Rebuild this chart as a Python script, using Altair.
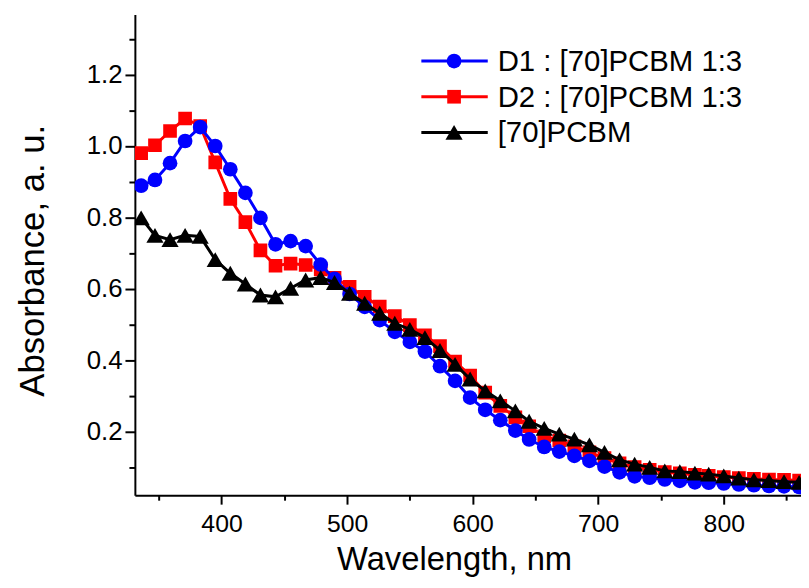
import altair as alt
import pandas as pd

# Wavelength (nm) of each measured point
wavelength = [336, 347, 359, 371, 383, 395, 407, 419, 431, 443, 455, 467, 479, 490, 502,
              514, 526, 538, 550, 562, 574, 586, 598, 610, 622, 634, 645, 657, 669, 681,
              693, 705, 717, 729, 741, 753, 765, 777, 788, 800, 812, 824, 836, 848, 860]

d1_pcbm = [0.889, 0.905, 0.952, 1.014, 1.053, 1.000, 0.935, 0.869, 0.799, 0.725, 0.734,
           0.720, 0.668, 0.628, 0.586, 0.550, 0.513, 0.480, 0.452, 0.425, 0.384, 0.343,
           0.296, 0.262, 0.233, 0.204, 0.179, 0.158, 0.145, 0.133, 0.119, 0.103, 0.087,
           0.076, 0.072, 0.067, 0.063, 0.059, 0.058, 0.056, 0.053, 0.051, 0.049, 0.048, 0.046]

d2_pcbm = [0.980, 1.002, 1.042, 1.077, 1.056, 0.954, 0.852, 0.787, 0.708, 0.665, 0.671,
           0.667, 0.655, 0.631, 0.606, 0.578, 0.551, 0.524, 0.499, 0.470, 0.440, 0.397,
           0.358, 0.310, 0.273, 0.241, 0.216, 0.188, 0.176, 0.160, 0.143, 0.127, 0.112,
           0.102, 0.094, 0.088, 0.084, 0.080, 0.077, 0.074, 0.071, 0.069, 0.067, 0.066, 0.064]

pcbm = [0.799, 0.750, 0.738, 0.750, 0.747, 0.682, 0.644, 0.614, 0.583, 0.578, 0.602,
        0.625, 0.632, 0.618, 0.588, 0.560, 0.532, 0.504, 0.487, 0.464, 0.428, 0.389,
        0.348, 0.315, 0.287, 0.259, 0.230, 0.210, 0.194, 0.180, 0.164, 0.143, 0.122,
        0.110, 0.101, 0.091, 0.089, 0.085, 0.082, 0.077, 0.071, 0.066, 0.064, 0.061, 0.059]

series_names = ["D1 : [70]PCBM 1:3", "D2 : [70]PCBM 1:3", "[70]PCBM"]
series_values = [d1_pcbm, d2_pcbm, pcbm]
series_colors = ["#0000FF", "#FF0000", "#000000"]
series_shapes = ["circle", "square", "triangle-up"]
series_sizes = [220, 190, 300]

x_ticks = [350, 400, 450, 500, 550, 600, 650, 700, 750, 800, 850]
y_ticks = [0.1, 0.2, 0.3, 0.4, 0.5, 0.6, 0.7, 0.8, 0.9, 1.0, 1.1, 1.2, 1.3]

FONT = "Liberation Sans"

x_scale = alt.Scale(domain=[331, 861.5], nice=False, zero=False)
y_scale = alt.Scale(domain=[0.023, 1.368], nice=False, zero=False)

x_axis = alt.Axis(
    title="Wavelength, nm", values=x_ticks,
    labelExpr="datum.value % 100 == 0 ? datum.label : ''",
    tickSize={"condition": {"test": "datum.value % 100 == 0", "value": 9}, "value": 5},
    grid=False, domainColor="black", domainWidth=2, tickColor="black", tickWidth=2,
    labelFont=FONT, labelFontSize=25, labelColor="black", labelPadding=8,
    titleFont=FONT, titleFontSize=33, titleFontWeight="normal", titleColor="black",
    titleX=322, titleY=75, titleBaseline="alphabetic",
)
y_axis = alt.Axis(
    title="Absorbance, a. u.", values=y_ticks,
    labelExpr="round(datum.value*10) % 2 == 0 ? format(datum.value, '.1f') : ''",
    tickSize={"condition": {"test": "round(datum.value*10) % 2 == 0", "value": 10}, "value": 6},
    grid=False, domainColor="black", domainWidth=2, tickColor="black", tickWidth=2,
    labelFont=FONT, labelFontSize=26, labelColor="black", labelPadding=3,
    titleFont=FONT, titleFontSize=35, titleFontWeight="normal", titleColor="black",
    titlePadding=36, titleY=248,
)

layers = []
# draw order: red, blue, black (black on top)
for idx in [1, 0, 2]:
    df = pd.DataFrame({"wavelength": wavelength, "value": series_values[idx]})
    layer = alt.Chart(df).mark_line(
        color=series_colors[idx], strokeWidth=3, clip=True,
        point=alt.OverlayMarkDef(shape=series_shapes[idx], size=series_sizes[idx],
                                 filled=True, color=series_colors[idx], opacity=1, clip=True),
    ).encode(
        x=alt.X("wavelength:Q", scale=x_scale, axis=x_axis),
        y=alt.Y("value:Q", scale=y_scale, axis=y_axis),
    )
    layers.append(layer)

# manual legend
legend_rows = [47, 83, 119]
for idx in range(3):
    ldf = pd.DataFrame({"label": [series_names[idx]]})
    yv = legend_rows[idx]
    layers.append(alt.Chart(ldf).mark_rule(color=series_colors[idx], strokeWidth=3).encode(
        x=alt.value(289), x2=alt.value(356), y=alt.value(yv)))
    layers.append(alt.Chart(ldf).mark_point(shape=series_shapes[idx], size=series_sizes[idx],
                                            filled=True, color=series_colors[idx], opacity=1).encode(
        x=alt.value(322), y=alt.value(yv)))
    layers.append(alt.Chart(ldf).mark_text(align="left", baseline="middle", font=FONT,
                                           fontSize=29.6, color="black").encode(
        x=alt.value(366), y=alt.value(yv + 1), text="label:N"))

chart = alt.layer(*layers).properties(
    width=672, height=485,
    autosize=alt.AutoSizeParams(type="none"),
    padding={"left": 128, "top": 4, "right": 0, "bottom": 83},
).configure_view(strokeWidth=0)

chart.save("out.html", embed_options={"renderer": "svg", "actions": False})
